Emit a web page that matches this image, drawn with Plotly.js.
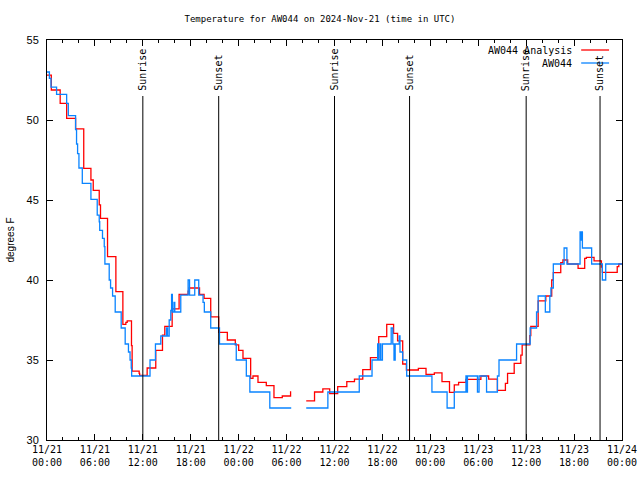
<!DOCTYPE html>
<html>
<head>
<meta charset="utf-8">
<script src="https://cdn.plot.ly/plotly-3.0.1.min.js"></script>
<style>html,body{margin:0;padding:0;background:#fff;}#chart{width:640px;height:480px;}</style>
</head>
<body>
<div id="chart"></div>
<script>
// Hours since 2024-11-21 00:00 UTC
var analysisHours = [0,0.54,1.65,2.46,3.58,4.6,5.5,5.79,6.54,6.7,7.58,8.625,9.5,9.875,10.04,10.58,10.66,11.54,11.6,12.54,13.62,14.46,14.75,15.67,16.54,17.67,17.8,19.1,19.67,20.5,21.5,22.58,23.58,24.0,24.54,25.5,25.79,26.42,27.46,28.42,29.46,30.5,30.58,31.5,32.46,33.5,34.54,35.4,36.4,37.54,38.5,39.54,40.5,41.54,42.54,43.4,43.9,44.54,45.0,46.5,47.46,48.5,49.46,50.4,51.0,51.54,52.46,54.33,55.3,56.4,57.4,57.67,58.5,59.33,59.5,60.46,60.58,61.5,62.46,63.2,63.4,64.33,64.6,65.2,66.5,67.33,67.54,68.5,69.42,69.54,71.4,71.6,72];
var analysisTemp = [52.8,51.875,51.04,50.1,49.44,46.98,46.25,45.6,44.7,43.85,41.46,39.27,37.23,37.35,37.44,35.9,34.3,34.17,34.04,34.5,35.6,36.56,37.1,38.2,39.1,39.3,39.5,39.1,38.85,37.7,36.73,36.25,35.94,35.6,35.1,33.85,34.0,33.6,33.4,32.65,32.75,33.0,33.0,null,32.44,33.0,33.2,32.9,33.33,33.65,33.8,34.4,35.15,36.46,37.23,36.67,36.19,34.75,34.375,34.48,34.1,34.2,33.65,32.98,33.44,33.6,33.79,34.0,33.8,33.1,33.54,34.17,34.79,35.31,35.94,36.52,37.1,38.69,39.0,40.0,40.46,41.08,41.25,41.0,40.73,41.35,41.42,41.2,40.8,40.48,40.83,41.0,41.0];

var obsHours = [0,0.3,0.5,1.2,2.46,2.67,3.58,3.7,3.83,4.0,4.42,5.5,6.29,6.54,6.6,6.95,7.17,7.25,7.79,7.96,8.21,8.54,9.29,9.79,10.2,10.4,10.55,10.6,12.9,13.58,14.25,14.96,15.1,15.3,15.5,15.6,15.7,15.9,16.0,16.75,17.67,17.85,18.5,19.0,19.54,19.7,20.5,21.6,23.7,24.96,25.4,27.9,30.58,31.5,32.46,35.17,39.1,40.7,41.4,41.5,41.7,41.8,42.0,43.1,43.3,43.45,43.6,44.1,44.2,44.54,45.04,48.2,50.1,51.0,52.46,52.55,52.65,53.9,54.1,55.04,56.4,56.6,58.8,60.5,61.3,61.5,62.4,62.96,63.1,63.4,64.75,65.1,66.75,66.85,66.9,67.04,68.2,69.54,69.96,72];
var obsTemp = [53.0,52.6,52.05,51.6,51.04,50.27,49.4,48.5,47.9,47.0,46.04,45.04,44.06,43.64,43.1,42.6,42.08,41.0,40.0,39.5,39.0,38.0,37.0,36.0,35.5,35.0,34.5,34.0,35.0,36.0,36.5,37.0,36.5,37.5,38.1,39.1,38.0,38.6,38.0,39.06,40.0,39.06,40.0,39.06,38.6,38.0,37.0,36.0,35.0,34.0,33.0,32.0,32.0,null,32.0,33.0,34.0,35.0,36.0,35.0,36.0,35.0,36.0,37.0,36.0,35.0,36.0,36.5,35.5,35.0,34.0,33.0,32.0,33.0,34.0,33.0,34.0,33.0,34.0,33.0,34.0,35.0,36.0,37.0,38.0,39.0,38.0,39.0,39.5,41.0,42.0,41.0,43.0,42.5,43.0,42.0,41.0,40.0,41.0,41.0];

var sunriseHours = [12, 36, 60];
var sunsetHours = [21.5, 45.4, 69.25];

var tickHours = [0,6,12,18,24,30,36,42,48,54,60,66,72];
var tickLabels = ['11/21<br>00:00','11/21<br>06:00','11/21<br>12:00','11/21<br>18:00','11/22<br>00:00','11/22<br>06:00','11/22<br>12:00','11/22<br>18:00','11/23<br>00:00','11/23<br>06:00','11/23<br>12:00','11/23<br>18:00','11/24<br>00:00'];

var seriesNames = ['AW044 Analysis', 'AW044'];
var seriesColors = ['#ff0000', '#0a84ff'];

var mono = 'DejaVu Sans Mono, monospace';

var traces = [
  {x: analysisHours, y: analysisTemp, mode: 'lines', line: {shape: 'hv', color: seriesColors[0], width: 1.3}, connectgaps: false, name: seriesNames[0], showlegend: false},
  {x: obsHours, y: obsTemp, mode: 'lines', line: {shape: 'hv', color: seriesColors[1], width: 1.3}, connectgaps: false, name: seriesNames[1], showlegend: false}
];

var shapes = [];
var annotations = [];
function addEvent(h, label) {
  shapes.push({type: 'line', xref: 'x', yref: 'paper', x0: h, x1: h, y0: 0, y1: 0.86, line: {color: '#000', width: 1}});
  annotations.push({x: h, xref: 'x', y: 0.8675, yref: 'paper', text: label, textangle: -90, showarrow: false, xanchor: 'center', yanchor: 'bottom', font: {family: mono, size: 10, color: '#000'}});
}
sunriseHours.forEach(function(h){ addEvent(h, 'Sunrise'); });
sunsetHours.forEach(function(h){ addEvent(h, 'Sunset'); });

// legend (text then line sample, gnuplot style)
var legY = [0.975, 0.9425];
seriesNames.forEach(function(n, i){
  annotations.push({x: 0.9165, xref: 'paper', y: legY[i], yref: 'paper', text: n, showarrow: false, xanchor: 'right', yanchor: 'middle', font: {family: mono, size: 10, color: '#000'}});
  shapes.push({type: 'line', xref: 'paper', yref: 'paper', x0: 0.929, x1: 0.9775, y0: legY[i], y1: legY[i], line: {color: seriesColors[i], width: 1.3}});
});

var layout = {
  width: 640, height: 480,
  margin: {l: 47, r: 18, t: 40, b: 40},
  paper_bgcolor: '#fff', plot_bgcolor: '#fff',
  title: {text: 'Temperature for AW044 on 2024-Nov-21 (time in UTC)', x: 0.5, xref: 'container', y: 0.96, yref: 'container', yanchor: 'middle', font: {family: mono, size: 9, color: '#000'}},
  xaxis: {
    range: [0, 72], tickvals: tickHours, ticktext: tickLabels,
    showgrid: false, zeroline: false, showline: true, linecolor: '#000', linewidth: 1, mirror: 'ticks',
    ticks: 'inside', ticklen: 6, tickcolor: '#000',
    minor: {dtick: 2, tick0: 0, ticks: 'inside', ticklen: 3, tickcolor: '#000', showgrid: false},
    tickfont: {family: mono, size: 10, color: '#000'}
  },
  yaxis: {
    range: [30, 55], dtick: 5, tick0: 30,
    showgrid: false, zeroline: false, showline: true, linecolor: '#000', linewidth: 1, mirror: 'ticks',
    ticks: 'inside', ticklen: 6, tickcolor: '#000', ticklabelstandoff: 5,
    tickfont: {family: 'Liberation Sans, Arial, sans-serif', size: 11, color: '#000'},
    title: {text: 'degrees F', font: {family: 'Liberation Sans, Arial, sans-serif', size: 10, color: '#000'}, standoff: 10}
  },
  shapes: shapes,
  annotations: annotations,
  showlegend: false
};

Plotly.newPlot('chart', traces, layout, {displayModeBar: false, staticPlot: true});
</script>
</body>
</html>
